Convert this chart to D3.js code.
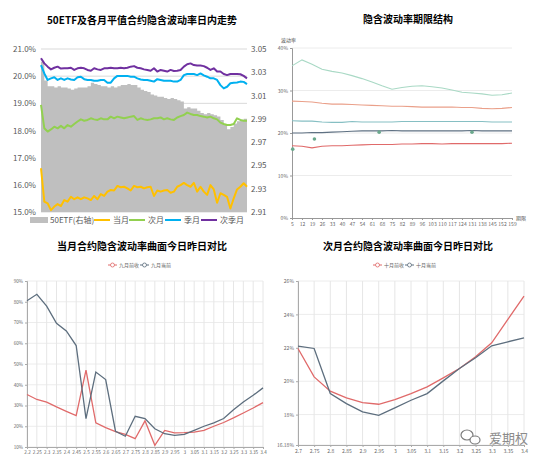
<!DOCTYPE html>
<html><head><meta charset="utf-8">
<script src="https://cdn.jsdelivr.net/npm/d3@7/dist/d3.min.js"></script>
<style>body{margin:0;background:#fff}svg{display:block}text{font-family:"Noto Sans CJK SC","Noto Sans",sans-serif}</style>
</head><body><svg id="c" width="546" height="463"></svg>
<script>
// ---------- Panel 1: intraday ----------
const etf = [3.039,3.023,3.018,3.018,3.017,3.018,3.017,3.017,3.016,3.015,3.016,3.017,3.017,3.017,3.018,3.021,3.020,3.019,3.018,3.018,3.017,3.018,3.017,3.018,3.019,3.019,3.020,3.019,3.019,3.017,3.015,3.014,3.013,3.011,3.010,3.009,3.009,3.008,3.007,3.008,3.007,3.006,3.005,2.999,3.000,2.999,2.999,2.997,2.995,2.994,2.995,2.994,2.993,2.992,2.989,2.985,2.981,2.983,2.986,2.988,2.989,2.990,2.991];
const ivFront = [16.61,15.38,15.32,15.07,15.20,15.29,15.22,15.44,15.38,15.56,15.47,15.54,15.47,15.54,15.50,15.44,15.59,15.47,15.66,15.59,15.75,15.81,15.79,15.96,15.91,15.93,15.87,15.79,15.96,15.91,15.93,15.87,15.91,15.93,15.59,15.79,15.75,15.79,15.81,15.71,15.75,15.93,15.99,16.07,15.99,15.93,16.07,15.75,15.93,15.75,15.63,15.99,15.83,15.34,15.69,15.63,15.56,15.13,15.50,15.83,15.93,16.06,15.93];
const ivNext = [18.94,18.08,17.96,18.04,18.14,18.08,18.17,18.08,18.20,18.14,18.24,18.33,18.41,18.36,18.39,18.45,18.41,18.39,18.45,18.41,18.41,18.51,18.45,18.51,18.48,18.45,18.48,18.51,18.53,18.39,18.45,18.41,18.39,18.41,18.45,18.45,18.48,18.41,18.45,18.41,18.39,18.48,18.53,18.57,18.66,18.61,18.57,18.57,18.53,18.51,18.48,18.51,18.45,18.41,18.29,18.24,18.20,18.20,18.24,18.45,18.39,18.36,18.36];
const ivQuarter = [20.41,20.10,19.86,19.92,19.96,19.86,19.92,19.86,19.92,19.88,19.86,19.96,19.98,19.89,19.86,19.86,19.83,19.83,19.86,19.86,19.76,19.76,19.92,20.01,20.01,20.01,20.01,19.98,19.98,19.92,19.88,19.86,19.86,19.83,19.80,19.89,19.86,19.83,19.83,19.83,19.80,19.80,19.86,20.04,20.08,20.08,20.08,20.04,20.10,20.03,19.98,19.92,19.92,19.86,19.67,19.55,19.61,19.74,19.76,19.77,19.80,19.79,19.71];
const ivNextQuarter = [20.66,20.47,20.35,20.25,20.31,20.35,20.28,20.29,20.29,20.31,20.23,20.29,20.31,20.29,20.23,20.20,20.29,20.25,20.23,20.29,20.29,20.31,20.29,20.29,20.31,20.29,20.31,20.35,20.37,20.31,20.29,20.25,20.23,20.20,20.29,20.17,20.23,20.20,20.17,20.23,20.19,20.20,20.23,20.35,20.44,20.47,20.41,20.39,20.39,20.37,20.31,20.23,20.29,20.17,20.17,20.08,20.04,20.08,20.08,20.08,20.07,20.01,19.92];
const leftTicks = [15,16,17,18,19,20,21];
const rightTicks = [2.91,2.93,2.95,2.97,2.99,3.01,3.03,3.05];
const p1Legend = ["50ETF(右轴)","当月","次月","季月","次季月"];

// ---------- Panel 2: term structure ----------
const termDays = [5,12,19,26,33,40,47,54,61,68,75,82,89,96,103,110,117,124,131,138,145,152,159];
const termA = [35.8,37.2,36.2,35.0,34.5,34.1,33.5,32.8,32.0,31.1,30.3,30.7,31.0,31.1,30.9,30.6,30.1,29.6,29.4,29.2,28.9,29.0,29.4];
const termB = [27.5,27.4,27.3,27.0,26.8,26.8,26.7,26.6,26.5,26.4,26.3,26.3,26.2,26.1,26.1,26.1,26.1,26.0,26.0,25.8,25.7,25.8,26.0];
const termC = [22.9,22.8,22.8,22.6,22.5,22.5,22.7,22.6,22.6,22.6,22.6,22.7,22.7,22.7,22.7,22.7,22.7,22.7,22.7,22.7,22.6,22.6,22.6];
const termD = [20.0,20.0,20.1,20.1,20.2,20.3,20.4,20.5,20.5,20.5,20.6,20.5,20.5,20.5,20.5,20.5,20.5,20.5,20.6,20.5,20.5,20.5,20.5];
const termE = [17.0,16.9,16.5,16.9,17.0,17.0,17.1,17.2,17.3,17.3,17.3,17.4,17.4,17.5,17.5,17.4,17.5,17.5,17.5,17.5,17.5,17.5,17.6];
const pointDays = [5.5,20.7,66,131];
const pointVals = [16.2,18.6,20.2,20.2];
const termYTicks = [0,10,20,30,40];

// ---------- Panel 3: front month smile ----------
const strikes1 = ["2.2","2.25","2.3","2.35","2.4","2.45","2.5","2.55","2.6","2.65","2.7","2.75","2.8","2.85","2.9","2.95","3","3.05","3.1","3.15","3.2","3.25","3.3","3.35","3.4"];
const smile1Prev = [35.3,32.9,31.6,29.3,27.2,25.1,47.0,21.6,19.3,17.4,16.1,14.0,22.6,10.8,18.0,16.8,16.9,17.2,18.0,20.0,21.8,24.0,26.4,28.8,31.4];
const smile1Now = [80.5,83.6,77.9,69.6,65.9,58.9,23.7,46.1,42.5,17.6,15.2,24.8,23.7,18.8,16.4,15.6,16.1,18.0,20.0,21.6,23.7,28.0,31.7,34.9,38.5];
const smile1Ticks = [10,20,30,40,50,60,70,80,90];
const legend3 = ["九月前收","九月当前"];

// ---------- Panel 4: next month smile ----------
const strikes2 = ["2.7","2.75","2.8","2.85","2.9","2.95","3","3.05","3.1","3.15","3.2","3.25","3.3","3.35","3.4"];
const smile2Prev = [21.96,20.26,19.40,19.00,18.72,18.62,18.90,19.26,19.66,20.20,20.76,21.46,22.30,23.70,25.10];
const smile2Now = [22.10,21.96,19.26,18.66,18.16,17.96,18.40,18.86,19.26,20.02,20.76,21.40,22.12,22.36,22.60];
const smile2Ticks = [16.18,18,20,22,24,26];
const legend4 = ["十月前收","十月当前"];

const svg = d3.select("#c");
const CJK = '"Noto Sans CJK SC","Noto Sans",sans-serif';

function title(x, y, t){
  svg.append("text").attr("x",x).attr("y",y).attr("text-anchor","middle")
    .attr("font-size",10).attr("font-weight","bold").attr("fill","#000").text(t);
}

// ===== Panel 1 =====
(function(){
  const L=41,R=247,T=49,B=212;
  const idx = d3.range(etf.length);
  const x = d3.scaleLinear().domain([0, etf.length-1]).range([L,R]);
  const yl = d3.scaleLinear().domain([15,21]).range([B,T]);
  const yr = d3.scaleLinear().domain([2.91,3.05]).range([B,T]);
  const g = svg.append("g");
  g.append("g").selectAll("line").data(leftTicks).join("line")
    .attr("x1",L).attr("x2",R).attr("y1",d=>yl(d)).attr("y2",d=>yl(d))
    .attr("stroke","#d9d9d9").attr("stroke-width",1);
  g.append("path").datum(idx).attr("fill","#bfbfbf")
    .attr("d", d3.area().curve(d3.curveStepAfter).x(i=>x(i)).y0(B).y1(i=>yr(etf[i])));
  const series = [[ivFront,"#ffc000"],[ivNext,"#92d050"],[ivQuarter,"#00b0f0"],[ivNextQuarter,"#7030a0"]];
  series.forEach(([s,c])=>{
    g.append("path").datum(idx).attr("fill","none").attr("stroke",c).attr("stroke-width",2)
      .attr("stroke-linejoin","round")
      .attr("d", d3.line().x(i=>x(i)).y(i=>yl(s[i])));
  });
  const la = d3.axisLeft(yl).tickValues(leftTicks).tickFormat(d=>d.toFixed(1)+"%").tickSize(0).tickPadding(5);
  const ax1 = g.append("g").attr("transform",`translate(${L},0)`).call(la);
  const ra = d3.axisRight(yr).tickValues(rightTicks).tickFormat(d3.format(".2f")).tickSize(0).tickPadding(4);
  const ax2 = g.append("g").attr("transform",`translate(${R},0)`).call(ra);
  [ax1,ax2].forEach(a=>{a.select(".domain").remove();
    a.selectAll("text").attr("font-size",8).attr("fill","#595959").attr("font-family",CJK);});
  title(142,24,"50ETF及各月平值合约隐含波动率日内走势");
  // legend
  const ly=220;
  const lg = g.append("g").attr("font-size",8).attr("fill","#595959");
  lg.append("rect").attr("x",30).attr("y",ly-3).attr("width",18).attr("height",6).attr("fill","#bfbfbf");
  lg.append("text").attr("x",50).attr("y",ly+3).text(p1Legend[0]);
  const items = [[94,p1Legend[1],"#ffc000"],[129,p1Legend[2],"#92d050"],[165,p1Legend[3],"#00b0f0"],[201,p1Legend[4],"#7030a0"]];
  items.forEach(([lx,t,c])=>{
    lg.append("line").attr("x1",lx).attr("x2",lx+16).attr("y1",ly).attr("y2",ly).attr("stroke",c).attr("stroke-width",2);
    lg.append("text").attr("x",lx+19).attr("y",ly+3).text(t);
  });
})();

// ===== Panel 2 =====
(function(){
  const L=292,R=512,T=48,B=218;
  const x = d3.scaleLinear().domain([5,159]).range([L,R]);
  const y = d3.scaleLinear().domain([0,40]).range([B,T]);
  const g = svg.append("g");
  g.append("g").selectAll("line").data(termYTicks.filter(d=>d>0)).join("line")
    .attr("x1",L).attr("x2",R).attr("y1",d=>y(d)).attr("y2",d=>y(d))
    .attr("stroke","#ececec").attr("stroke-width",1);
  const ya = g.append("g").attr("transform",`translate(${L},0)`)
    .call(d3.axisLeft(y).tickValues(termYTicks).tickFormat(d=>d+"%").tickSize(2).tickPadding(2));
  const xa = g.append("g").attr("transform",`translate(0,${B})`)
    .call(d3.axisBottom(x).tickValues(termDays).tickFormat(d=>d).tickSize(2).tickPadding(2));
  [ya,xa].forEach(a=>{a.select(".domain").attr("stroke","#999");a.selectAll(".tick line").attr("stroke","#999");
    a.selectAll("text").attr("font-size",5).attr("fill","#666").attr("font-family",CJK);});
  const lines = [[termA,"#a9d9c5"],[termB,"#eaa08a"],[termC,"#86bfc3"],[termD,"#5f7183"],[termE,"#e06a6a"]];
  lines.forEach(([s,c])=>{
    g.append("path").datum(termDays.map((d,i)=>[d,s[i]])).attr("fill","none").attr("stroke",c).attr("stroke-width",1.1)
      .attr("d", d3.line().x(d=>x(d[0])).y(d=>y(d[1])));
  });
  g.append("g").selectAll("circle").data(pointDays.map((d,i)=>[d,pointVals[i]])).join("circle")
    .attr("cx",d=>x(d[0])).attr("cy",d=>y(d[1])).attr("r",1.8).attr("fill","#6aa88c");
  g.append("text").attr("x",281).attr("y",42).attr("font-size",5).attr("fill","#555").text("波动率");
  g.append("text").attr("x",516).attr("y",220).attr("font-size",5).attr("fill","#555").text("期限");
  title(408,23,"隐含波动率期限结构");
})();

// ===== smile panel helper =====
function smile(opts){
  const {L,R,T,B,cats,prev,now,ticks,dom,fmt,names,lx,tx,ty}=opts;
  const x = d3.scalePoint().domain(cats).range([L,R]);
  const y = d3.scaleLinear().domain(dom).range([B,T]);
  const g = svg.append("g");
  g.append("g").selectAll("line").data(ticks).join("line")
    .attr("x1",L).attr("x2",R).attr("y1",d=>y(d)).attr("y2",d=>y(d)).attr("stroke","#ececec");
  g.append("g").selectAll("line").data(cats).join("line")
    .attr("x1",d=>x(d)).attr("x2",d=>x(d)).attr("y1",T).attr("y2",B).attr("stroke","#e6e6e6");
  const ya = g.append("g").attr("transform",`translate(${L},0)`)
    .call(d3.axisLeft(y).tickValues(ticks).tickFormat(fmt).tickSize(2).tickPadding(2));
  const xa = g.append("g").attr("transform",`translate(0,${B})`)
    .call(d3.axisBottom(x).tickSize(2).tickPadding(2));
  [ya,xa].forEach(a=>{a.select(".domain").attr("stroke","#aaa");a.selectAll(".tick line").attr("stroke","#aaa");
    a.selectAll("text").attr("font-size",opts.fs||5).attr("fill","#666").attr("font-family",CJK);});
  const cols = ["#e06a6a","#5d6e7e"];
  [prev,now].forEach((s,k)=>{
    g.append("path").datum(cats.map((c,i)=>[c,s[i]])).attr("fill","none").attr("stroke",cols[k]).attr("stroke-width",1.3)
      .attr("d", d3.line().x(d=>x(d[0])).y(d=>y(d[1])));
  });
  // legend
  const ly=265;
  const lgx=[lx, lx+32];
  names.forEach((n,k)=>{
    g.append("line").attr("x1",lgx[k]).attr("x2",lgx[k]+9).attr("y1",ly).attr("y2",ly).attr("stroke",cols[k]).attr("stroke-width",1);
    g.append("circle").attr("cx",lgx[k]+4.5).attr("cy",ly).attr("r",2).attr("fill","#fff").attr("stroke",cols[k]).attr("stroke-width",0.8);
    g.append("text").attr("x",lgx[k]+11).attr("y",ly+1.8).attr("font-size",5).attr("fill","#666").text(n);
  });
  title(tx,ty,opts.title);
}

smile({L:27,R:263,T:281,B:447,cats:strikes1,prev:smile1Prev,now:smile1Now,ticks:smile1Ticks,dom:[10,90],fs:4.6,
  fmt:d=>d+"%",names:legend3,lx:108,tx:142,ty:250,title:"当月合约隐含波动率曲面今日昨日对比"});
smile({L:298,R:524,T:281,B:445,cats:strikes2,prev:smile2Prev,now:smile2Now,ticks:smile2Ticks,dom:[16.18,26],
  fmt:d=>(d===16.18?"16.18":d)+"%",names:legend4,lx:373,tx:408,ty:250,title:"次月合约隐含波动率曲面今日昨日对比"});

// watermark
(function(){
  const w = svg.append("g").attr("opacity",0.85);
  w.append("ellipse").attr("cx",467).attr("cy",435).attr("rx",6).attr("ry",5).attr("fill","none").attr("stroke","#666").attr("stroke-width",1.2);
  w.append("ellipse").attr("cx",475).attr("cy",440).attr("rx",5).attr("ry",4).attr("fill","#fff").attr("stroke","#666").attr("stroke-width",1.2);
  w.append("text").attr("x",489).attr("y",443).attr("font-size",13).attr("fill","#777")
    .attr("stroke","#fff").attr("stroke-width",0.6).attr("paint-order","stroke").text("爱期权");
})();
</script></body></html>
